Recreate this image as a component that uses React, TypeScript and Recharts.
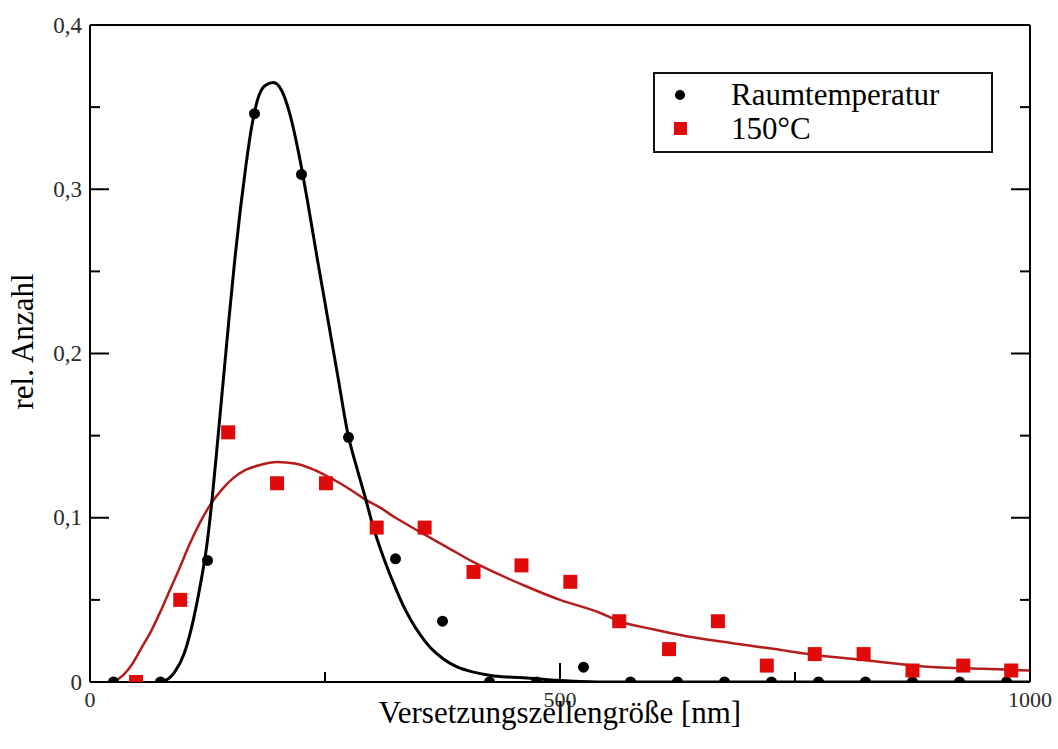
import {
  ComposedChart, Line, Scatter, XAxis, YAxis, Legend, Label,
} from 'recharts'

// measured points
const rtX = [25, 75, 125, 175, 225, 275, 325, 375, 425, 475, 525, 575, 625, 675, 725, 775, 825, 875, 925, 975]
const rtY = [0, 0, 0.074, 0.346, 0.309, 0.149, 0.075, 0.037, 0, 0, 0.009, 0, 0, 0, 0, 0, 0, 0, 0, 0]

const hotX = [49, 96, 147, 199, 251, 305, 356, 408, 459, 511, 563, 616, 668, 720, 771, 823, 875, 929, 980]
const hotY = [0, 0.05, 0.152, 0.121, 0.121, 0.094, 0.094, 0.067, 0.071, 0.061, 0.037, 0.02, 0.037, 0.01, 0.017, 0.017, 0.007, 0.01, 0.007]

// fitted curves
const rtFitX = [70, 80, 90, 100, 110, 117, 124, 130, 136, 142, 148, 154, 160, 166, 172, 178, 186, 195, 204, 213, 222, 231, 242, 253, 264, 274, 284, 293, 301, 309, 316, 323, 332, 341, 351, 362, 376, 391, 408, 426, 445, 465, 497, 540, 1000]
const rtFitY = [0, 0.001, 0.006, 0.017, 0.038, 0.058, 0.082, 0.112, 0.148, 0.185, 0.222, 0.257, 0.288, 0.315, 0.338, 0.354, 0.363, 0.365, 0.36, 0.345, 0.322, 0.294, 0.257, 0.221, 0.185, 0.152, 0.13, 0.112, 0.095, 0.081, 0.07, 0.06, 0.048, 0.038, 0.029, 0.021, 0.014, 0.009, 0.006, 0.004, 0.003, 0.0025, 0.001, 0, 0]

const hotFitX = [25, 35, 45, 55, 65, 75, 85, 95, 106, 117, 128, 140, 152, 165, 180, 199, 218, 235, 250, 266, 280, 293, 309, 325, 340, 355, 380, 408, 437, 465, 500, 543, 563, 600, 628, 682, 735, 771, 823, 887, 950, 1000]
const hotFitY = [0, 0.004, 0.011, 0.021, 0.031, 0.043, 0.056, 0.069, 0.084, 0.097, 0.108, 0.117, 0.124, 0.129, 0.132, 0.134, 0.133, 0.13, 0.126, 0.121, 0.116, 0.111, 0.106, 0.1, 0.095, 0.09, 0.082, 0.073, 0.065, 0.058, 0.05, 0.042, 0.037, 0.032, 0.0286, 0.0237, 0.0195, 0.0164, 0.0134, 0.0095, 0.008, 0.007]

const xTicks = [0, 250, 500, 750, 1000]
const xMajor = [0, 500, 1000]
const yTicks = [0, 0.05, 0.1, 0.15, 0.2, 0.25, 0.3, 0.35, 0.4]
const yMajor = [0, 0.1, 0.2, 0.3, 0.4]

const toPts = (xs: number[], ys: number[]) => xs.map((x, i) => ({ x, y: ys[i] }))
const rtPoints = toPts(rtX, rtY)
const hotPoints = toPts(hotX, hotY)
const rtFit = toPts(rtFitX, rtFitY)
const hotFit = toPts(hotFitX, hotFitY)

const FONT = 'Liberation Serif, Times New Roman, serif'
const RED = '#e10a0a'
const RED_LINE = '#b51d1d'
const MAJOR = 19
const MINOR = 10

const isMajorX = (v: number) => xMajor.includes(v)
const isMajorY = (v: number) => yMajor.some((m) => Math.abs(m - v) < 1e-6)
const fmtY = (v: number) => (v === 0 ? '0' : v.toFixed(1).replace('.', ','))

function BottomTick({ x, y, payload }: any) {
  const major = isMajorX(payload.value)
  return (
    <g>
      <line x1={x} x2={x} y1={y} y2={y - (major ? MAJOR : MINOR)} stroke="#000" strokeWidth={2} />
      {major && (
        <text x={x} y={y + 17} textAnchor="middle" dominantBaseline="central"
          fontFamily={FONT} fontSize={22} fill="#2a2a2a">{payload.value}</text>
      )}
    </g>
  )
}

function TopTick({ x, y, payload }: any) {
  const major = isMajorX(payload.value)
  return <line x1={x} x2={x} y1={y} y2={y + (major ? MAJOR : MINOR)} stroke="#000" strokeWidth={2} />
}

function LeftTick({ x, y, payload }: any) {
  const major = isMajorY(payload.value)
  return (
    <g>
      <line x1={x} x2={x + (major ? MAJOR : MINOR)} y1={y} y2={y} stroke="#000" strokeWidth={2} />
      {major && (
        <text x={x - 8} y={y} textAnchor="end" dominantBaseline="central"
          fontFamily={FONT} fontSize={23} fill="#2a2a2a">{fmtY(payload.value)}</text>
      )}
    </g>
  )
}

function RightTick({ x, y, payload }: any) {
  const major = isMajorY(payload.value)
  return <line x1={x} x2={x - (major ? MAJOR : MINOR)} y1={y} y2={y} stroke="#000" strokeWidth={2} />
}

const Dot = ({ cx, cy }: any) => <circle cx={cx} cy={cy} r={5.5} fill="#000" />
const Square = ({ cx, cy }: any) => <rect x={cx - 7} y={cy - 7} width={14} height={14} fill={RED} />

function LegendBox() {
  const row = { display: 'flex', alignItems: 'center', height: 34 } as const
  return (
    <div style={{
      width: 336, height: 73, border: '2px solid #111', background: '#fff',
      boxSizing: 'content-box', paddingTop: 4, fontFamily: FONT, fontSize: 31, color: '#000',
    }}>
      <div style={row}>
        <svg width={76} height={34}><circle cx={25} cy={17} r={5} fill="#000" /></svg>
        <span>Raumtemperatur</span>
      </div>
      <div style={row}>
        <svg width={76} height={34}><rect x={19} y={10} width={13} height={13} fill={RED} /></svg>
        <span>150°C</span>
      </div>
    </div>
  )
}

const axisLine = { stroke: '#000', strokeWidth: 2 }

export default function App() {
  return (
    <div style={{ position: 'absolute', left: 0, top: 0, width: 1058, height: 749, background: '#fff' }}>
      <ComposedChart width={1058} height={749} margin={{ top: 24, right: 27, bottom: 66, left: 89 }}>
        <XAxis dataKey="x" type="number" domain={[0, 1000]} ticks={xTicks} interval={0}
          height={1} tickSize={0} tickMargin={0} tickLine={false} allowDataOverflow
          axisLine={axisLine} tick={<BottomTick />}>
          <Label content={({ viewBox }: any) => (
            <text x={viewBox.x + viewBox.width / 2} y={viewBox.y + 41} textAnchor="middle"
              fontFamily={FONT} fontSize={31} fill="#000">Versetzungszellengröße [nm]</text>
          )} />
        </XAxis>
        <XAxis xAxisId="top" orientation="top" type="number" domain={[0, 1000]} ticks={xTicks}
          interval={0} height={1} tickSize={0} tickMargin={0} tickLine={false} allowDataOverflow
          axisLine={axisLine} tick={<TopTick />} />
        <YAxis dataKey="y" type="number" domain={[0, 0.4]} ticks={yTicks} interval={0}
          width={1} tickSize={0} tickMargin={0} tickLine={false} allowDataOverflow
          axisLine={axisLine} tick={<LeftTick />}>
          <Label content={({ viewBox }: any) => {
            const cx = viewBox.x - 56
            const cy = viewBox.y + viewBox.height / 2 - 12
            return (
              <text x={cx} y={cy} textAnchor="middle" transform={`rotate(-90, ${cx}, ${cy})`}
                fontFamily={FONT} fontSize={31} fill="#000">rel. Anzahl</text>
            )
          }} />
        </YAxis>
        <YAxis yAxisId="right" orientation="right" type="number" domain={[0, 0.4]} ticks={yTicks}
          interval={0} width={1} tickSize={0} tickMargin={0} tickLine={false} allowDataOverflow
          axisLine={axisLine} tick={<RightTick />} />

        <Line data={hotFit} dataKey="y" type="monotone" stroke={RED_LINE} strokeWidth={2.5}
          dot={false} legendType="none" isAnimationActive={false} />
        <Line data={rtFit} dataKey="y" type="monotone" stroke="#000" strokeWidth={3}
          dot={false} legendType="none" isAnimationActive={false} />
        <Scatter name="Raumtemperatur" data={rtPoints} dataKey="y" fill="#000" shape={<Dot />}
          isAnimationActive={false} />
        <Scatter name="150°C" data={hotPoints} dataKey="y" fill={RED} shape={<Square />}
          isAnimationActive={false} />

        <Legend layout="horizontal" verticalAlign="middle" align="center" content={<LegendBox />}
          wrapperStyle={{ left: 653, top: 72, width: 340, height: 77 }} />
      </ComposedChart>
    </div>
  )
}
